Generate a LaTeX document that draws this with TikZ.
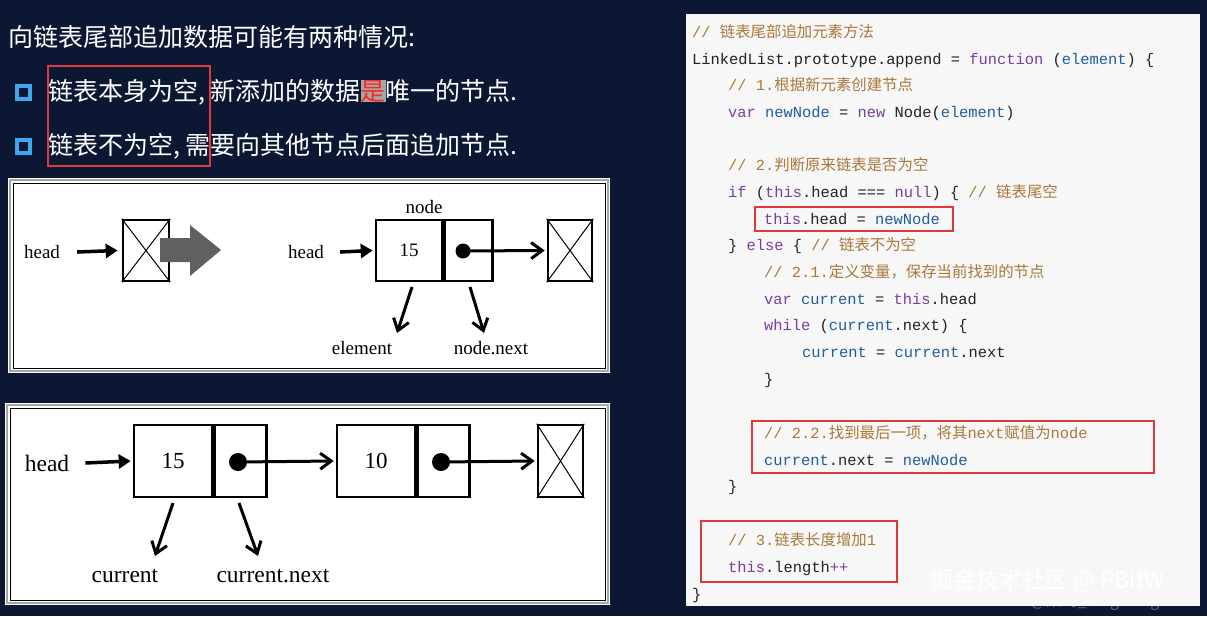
\documentclass[tikz,border=0pt]{standalone}
\usepackage{fontspec}
\setmainfont{Liberation Serif}
\setmonofont{Liberation Mono}
\newfontfamily\cjk{Noto Sans CJK SC}
\usetikzlibrary{arrows.meta}
\definecolor{bgnavy}{HTML}{0B1733}
\definecolor{codebg}{HTML}{F7F7F7}
\definecolor{cmt}{HTML}{A9773A}
\definecolor{kw}{HTML}{7A3E9D}
\definecolor{idn}{HTML}{1F5E9E}
\definecolor{txt}{HTML}{222222}
\definecolor{redbox}{HTML}{E0383B}
\definecolor{bul}{HTML}{3FA6F0}
\newcommand{\Cm}[1]{\textcolor{cmt}{#1}}
\newcommand{\Kw}[1]{\textcolor{kw}{#1}}
\newcommand{\Id}[1]{\textcolor{idn}{#1}}
\tikzset{
 x=1pt,y=-1pt,
 code/.style={anchor=base west,inner sep=0,font=\ttfamily\fontsize{15.4}{15.4}\selectfont,text=txt},
 rbox/.style={draw=redbox,line width=2pt},
 cellA/.style={draw,line width=2.6pt,fill=white,font=\fontsize{19}{19}\selectfont},
 cellB/.style={draw,line width=2.6pt,fill=white,font=\fontsize{23}{23}\selectfont},
 lbl/.style={font=\fontsize{19}{19}\selectfont,inner sep=0},
 lblb/.style={font=\fontsize{23.5}{23.5}\selectfont,inner sep=0},
 fat/.style={-{Triangle[length=12pt,width=14pt]},line width=3.5pt},
 barb/.style={-{Straight Barb[length=11pt,width=16pt,line width=3pt]},line width=3pt},
 cn/.style={font=\cjk\fontsize{25}{25}\selectfont,text=white,anchor=base west,inner sep=0},
}
\begin{document}
\begin{tikzpicture}
\useasboundingbox (0,0) rectangle (1207,616);
\fill[bgnavy] (0,0) rectangle (1207,616);
% title and bullets
\node[cn] (title) at (8,46) {向链表尾部追加数据可能有两种情况:};
\fill[bul] (15,84) rectangle (32,101); \fill[bgnavy] (19,88) rectangle (28,97);
\fill[bul] (15,138) rectangle (32,155); \fill[bgnavy] (19,142) rectangle (28,151);
\node[cn] (b1) at (48,100) {链表本身为空, 新添加的数据{\setlength\fboxsep{0pt}\colorbox{gray!70}{\textcolor{red!85!white}{是}}}唯一的节点.};
\node[cn] (b2) at (48,154) {链表不为空, 需要向其他节点后面追加节点.};
\draw[rbox] (48,66) rectangle (210,166);
% diagram 1
\fill[white] (8,178) rectangle (610,373);
\draw[gray!70,line width=1.5pt] (10,180) rectangle (608,371);
\draw[black,line width=0.8pt] (13,183) rectangle (605,368);
\node[lbl] (h1) at (42,252) {head};
\node[cellA,minimum width=46pt,minimum height=61pt] (n0) at (146,250.5) {};
\draw[line width=1pt] (n0.north west)--(n0.south east) (n0.north east)--(n0.south west);
\draw[fat] ([xshift=17pt]h1.east) -- ([xshift=-4pt]n0.west);
\fill[gray!75!black] (160,238) -- (190,238) -- (190,225) -- (221,250) -- (190,276) -- (190,262) -- (160,262) -- cycle;
\node[lbl] (h2) at (306,252) {head};
\node[cellA,minimum width=66pt,minimum height=61pt] (a) at (409,250.5) {15};
\node[cellA,minimum width=48pt,minimum height=61pt,anchor=west] (ap) at (a.east) {};
\fill (463,251) circle (7.5);
\node[cellA,minimum width=44pt,minimum height=61pt] (n1) at (570,250.5) {};
\draw[line width=1pt] (n1.north west)--(n1.south east) (n1.north east)--(n1.south west);
\draw[fat] ([xshift=16pt]h2.east) -- ([xshift=-2pt]a.west);
\draw[barb] (463,251) -- ([xshift=-2pt]n1.west);
\node[lbl] (nd) at (424,207) {node};
\node[lbl] (el) at (362,348) {element};
\node[lbl] (nn) at (491,348) {node.next};
\draw[barb] (412,287) -- (397,333);
\draw[barb] (470,287) -- (484,333);
% diagram 2
\fill[white] (5,403) rectangle (610,605);
\draw[gray!70,line width=1.5pt] (7,405) rectangle (608,603);
\draw[black,line width=0.8pt] (10,408) rectangle (605,600);
\node[lblb] (h3) at (47,463) {head};
\node[cellB,minimum width=78pt,minimum height=72pt] (c1) at (173,461) {15};
\node[cellB,minimum width=52pt,minimum height=72pt,anchor=west] (c1p) at (c1.east) {};
\node[cellB,minimum width=78pt,minimum height=72pt] (c2) at (376,461) {10};
\node[cellB,minimum width=52pt,minimum height=72pt,anchor=west] (c2p) at (c2.east) {};
\node[cellB,minimum width=45pt,minimum height=72pt] (n2) at (560.5,461) {};
\draw[line width=1pt] (n2.north west)--(n2.south east) (n2.north east)--(n2.south west);
\fill (238,462) circle (9);
\fill (441,462) circle (9);
\draw[fat] ([xshift=16pt]h3.east) -- ([xshift=-2pt]c1.west);
\draw[barb] (238,462) -- ([xshift=-2pt]c2.west);
\draw[barb] (441,462) -- ([xshift=-2pt]n2.west);
\node[lblb] (cu) at (125,576) {current};
\node[lblb] (cn) at (273,576) {current.next};
\draw[barb] (173,503) -- (155,556);
\draw[barb] (239,503) -- (258,556);
% code panel
\fill[codebg] (686,14) rectangle (1200,606);
\node[code] (l1) at (692,37) {\Cm{// {\cjk 链表尾部追加元素方法}}};
\node[code] (l2) at (692,64) {LinkedList.prototype.append = \Kw{function} (\Id{element}) \{};
\node[code] (l3) at (728,90) {\Cm{// 1.{\cjk 根据新元素创建节点}}};
\node[code] (l4) at (728,117) {\Kw{var} \Id{newNode} = \Kw{new} Node(\Id{element})};
\node[code] (l5) at (728,170) {\Cm{// 2.{\cjk 判断原来链表是否为空}}};
\node[code] (l6) at (728,197) {\Kw{if} (\Kw{this}.head === \Kw{null}) \{ \Cm{// {\cjk 链表尾空}}};
\node[code] (l7) at (764,224) {\Kw{this}.head = \Id{newNode}};
\node[code] (l8) at (728,250) {\} \Kw{else} \{ \Cm{// {\cjk 链表不为空}}};
\node[code] (l9) at (764,277) {\Cm{// 2.1.{\cjk 定义变量，保存当前找到的节点}}};
\node[code] (l10) at (764,304) {\Kw{var} \Id{current} = \Kw{this}.head};
\node[code] (l11) at (764,330) {\Kw{while} (\Id{current}.next) \{};
\node[code] (l12) at (802,357) {\Id{current} = \Id{current}.next};
\node[code] (l13) at (764,384) {\}};
\node[code] (l14) at (764,438) {\Cm{// 2.2.{\cjk 找到最后一项，将其}next{\cjk 赋值为}node}};
\node[code] (l15) at (764,465) {\Id{current}.next = \Id{newNode}};
\node[code] (l16) at (728,491) {\}};
\node[code] (l17) at (728,545) {\Cm{// 3.{\cjk 链表长度增加}1}};
\node[code] (l18) at (728,572) {\Kw{this}.length\Kw{++}};
\node[code] (l19) at (692,599) {\}};
\draw[rbox] (755,207) rectangle (953,231);
\draw[rbox] (752,421) rectangle (1154,473);
\draw[rbox] (701,521) rectangle (897,582);
% watermarks
\node[anchor=base west,inner sep=0,font=\cjk\fontsize{23}{23}\selectfont,text=white] (wm) at (930,588) {掘金技术社区 @ PBitW};
\node[anchor=base west,inner sep=0,font=\cjk\fontsize{16}{16}\selectfont,text=white,opacity=0.35] (wm2) at (985,606) {CSDN @菜鸟\_langwang};
\end{tikzpicture}
\end{document}
